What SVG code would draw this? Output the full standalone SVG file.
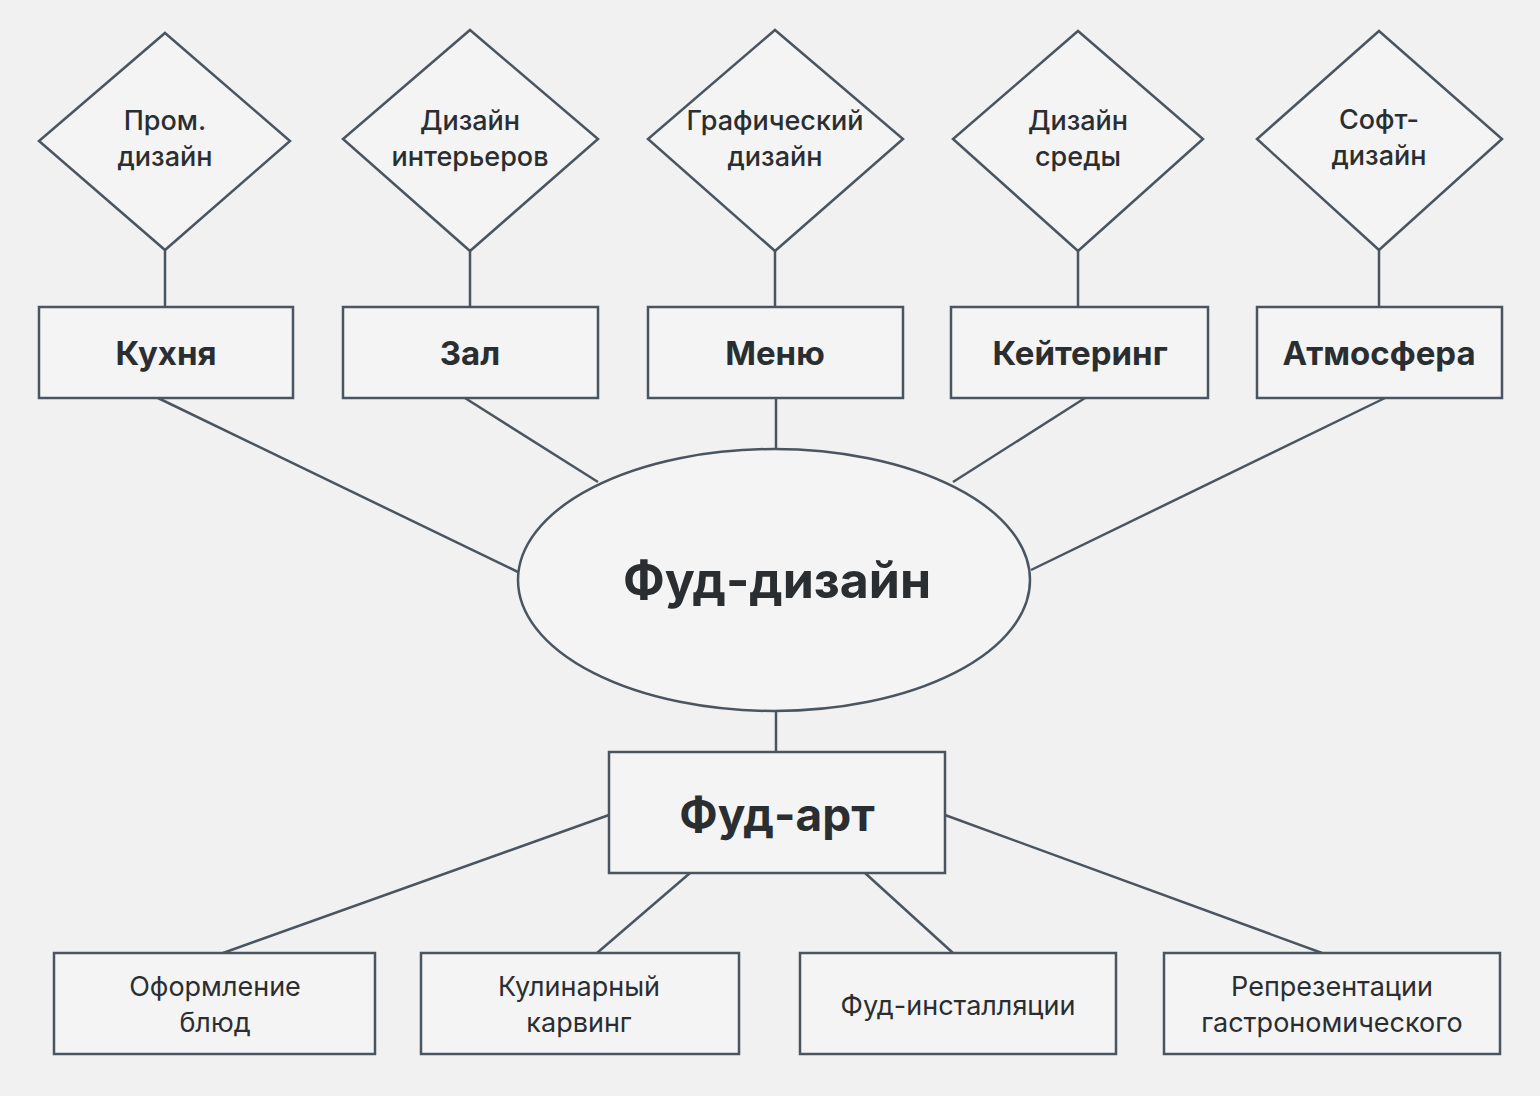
<svg xmlns="http://www.w3.org/2000/svg" width="1540" height="1096" viewBox="0 0 1540 1096">
<style>
.shape{fill:#f4f4f4;stroke:#4b5560;stroke-width:2.5}
.conn{stroke:#4b5560;stroke-width:2.5;fill:none}
text{font-family:Inter,Roboto,"Liberation Sans",sans-serif;fill:#2b2e31;text-anchor:middle}
.d{font-size:27px;font-weight:500}
.r{font-size:33px;font-weight:700}
.b{font-size:27px;font-weight:400}
</style>
<rect width="1540" height="1096" fill="#f1f1f1"/>
<g id="connectors">
<line class="conn" x1="165" y1="250" x2="165" y2="307"/>
<line class="conn" x1="470" y1="251" x2="470" y2="307"/>
<line class="conn" x1="775" y1="251" x2="775" y2="307"/>
<line class="conn" x1="1078" y1="251" x2="1078" y2="307"/>
<line class="conn" x1="1379" y1="250" x2="1379" y2="307"/>
<line class="conn" x1="158" y1="398" x2="518" y2="572"/>
<line class="conn" x1="465" y1="398" x2="598" y2="482"/>
<line class="conn" x1="776" y1="398" x2="776" y2="449"/>
<line class="conn" x1="1085" y1="398" x2="953" y2="482"/>
<line class="conn" x1="1385" y1="398" x2="1031" y2="570"/>
<line class="conn" x1="776" y1="711" x2="776" y2="752"/>
<line class="conn" x1="609" y1="815" x2="223" y2="953"/>
<line class="conn" x1="690" y1="873" x2="597" y2="953"/>
<line class="conn" x1="865" y1="873" x2="953" y2="953"/>
<line class="conn" x1="945" y1="815" x2="1322" y2="953"/>
</g>
<g id="d1"><polygon class="shape" points="165,33 290,141 165,250 39,141"/><text class="d" x="165" y="130">Пром.</text><text class="d" x="165" y="166">дизайн</text></g>
<g id="d2"><polygon class="shape" points="470,30 598,139 470,251 343,139"/><text class="d" x="470" y="130">Дизайн</text><text class="d" x="470" y="166">интерьеров</text></g>
<g id="d3"><polygon class="shape" points="775,30 903,139 775,251 648,139"/><text class="d" x="775" y="130">Графический</text><text class="d" x="775" y="166">дизайн</text></g>
<g id="d4"><polygon class="shape" points="1078,31 1203,139 1078,251 953,139"/><text class="d" x="1078" y="130">Дизайн</text><text class="d" x="1078" y="166">среды</text></g>
<g id="d5"><polygon class="shape" points="1379,31 1502,139 1379,250 1257,139"/><text class="d" x="1379" y="129">Софт-</text><text class="d" x="1379" y="165">дизайн</text></g>
<g id="r1"><rect class="shape" x="39" y="307" width="254" height="91"/><text class="r" x="166" y="365">Кухня</text></g>
<g id="r2"><rect class="shape" x="343" y="307" width="255" height="91"/><text class="r" x="470" y="365">Зал</text></g>
<g id="r3"><rect class="shape" x="648" y="307" width="255" height="91"/><text class="r" x="775" y="365">Меню</text></g>
<g id="r4"><rect class="shape" x="951" y="307" width="257" height="91"/><text class="r" x="1080" y="365">Кейтеринг</text></g>
<g id="r5"><rect class="shape" x="1257" y="307" width="245" height="91"/><text class="r" x="1379" y="365">Атмосфера</text></g>
<g id="center"><ellipse class="shape" cx="774" cy="580" rx="256" ry="131"/><text x="777" y="598" style="font-size:50px;font-weight:700">Фуд-дизайн</text></g>
<g id="foodart"><rect class="shape" x="609" y="752" width="336" height="121"/><text x="777" y="831" style="font-size:46px;font-weight:700">Фуд-арт</text></g>
<g id="b1"><rect class="shape" x="54" y="953" width="321" height="101"/><text class="b" x="215" y="996">Оформление</text><text class="b" x="215" y="1032">блюд</text></g>
<g id="b2"><rect class="shape" x="421" y="953" width="318" height="101"/><text class="b" x="579" y="996">Кулинарный</text><text class="b" x="579" y="1032">карвинг</text></g>
<g id="b3"><rect class="shape" x="800" y="953" width="316" height="101"/><text class="b" x="958" y="1015">Фуд-инсталляции</text></g>
<g id="b4"><rect class="shape" x="1164" y="953" width="336" height="101"/><text class="b" x="1332" y="996">Репрезентации</text><text class="b" x="1332" y="1032">гастрономического</text></g>
</svg>
